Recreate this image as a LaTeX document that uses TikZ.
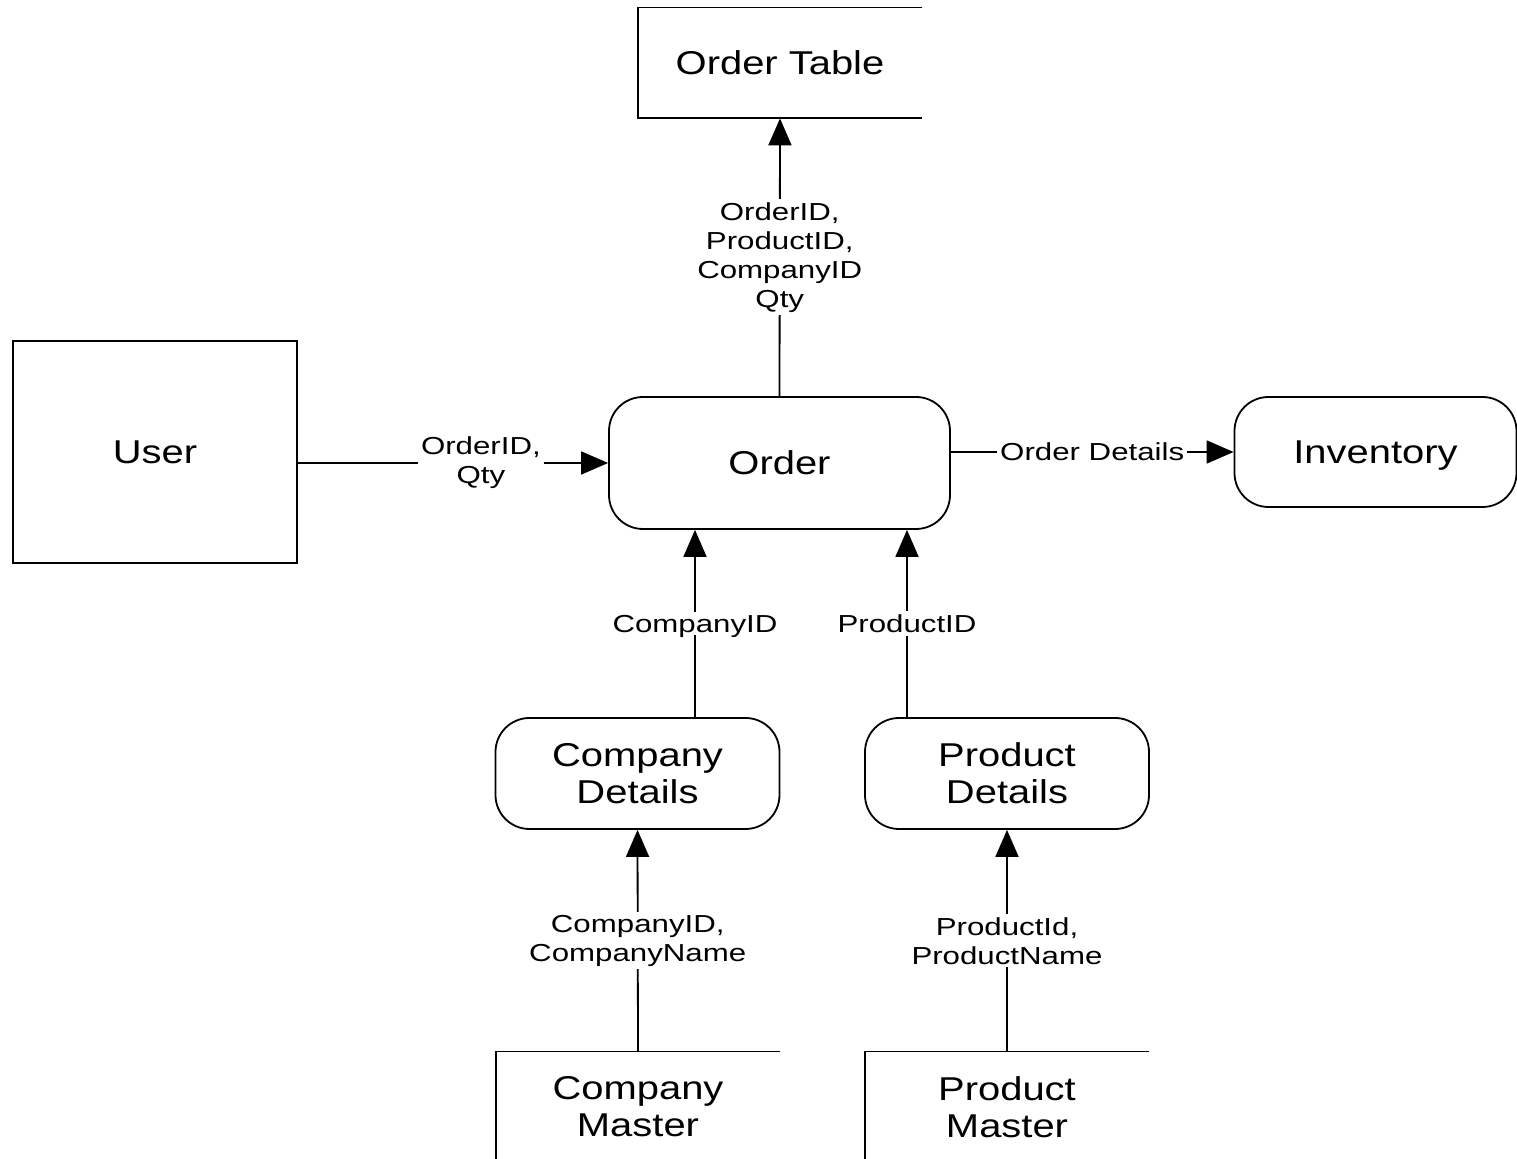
\documentclass[tikz,border=0pt]{standalone}
\usepackage{fontspec}
\setmainfont{Liberation Sans}
\newfontfamily\bigfont{Liberation Sans}[FakeStretch=1.21]
\newfontfamily\labfont{Liberation Sans}[FakeStretch=1.27]
\usetikzlibrary{arrows.meta}
\tikzset{
  box/.style={draw, line width=0.9pt, minimum width=142pt, minimum height=55pt, align=center,
    font=\bigfont\fontsize{16.5pt}{18.5pt}\selectfont, inner sep=0pt},
  rbox/.style={box, rounded corners=17pt},
  txt/.style={minimum width=142pt, minimum height=55pt, align=center,
    font=\bigfont\fontsize{16.5pt}{18.5pt}\selectfont, inner sep=0pt},
  lab/.style={fill=white, align=center, inner sep=1.5pt,
    font=\labfont\fontsize{12.3pt}{14.5pt}\selectfont},
  arr/.style={line width=0.9pt, -{Triangle[length=13.5pt,width=11.5pt]}},
  ln/.style={line width=0.9pt}
}
\begin{document}
\begin{tikzpicture}[x=0.5pt,y=-0.5pt]
\useasboundingbox (0,0) rectangle (1517,1159);
% nodes
\node[txt] (ot) at (780,63) {Order Table};
\draw[ln] (ot.north east) -- (ot.north west) -- (ot.south west) -- (ot.south east);
\node[box, minimum height=111pt] (user) at (155,452) {User};
\node[rbox, minimum width=170.5pt, minimum height=66pt] (order) at (779.5,463) {Order};
\node[rbox, minimum width=141pt, text depth=0pt] (inv) at (1375.5,452) {Inventory};
\node[rbox, minimum height=55.5pt] (cd) at (637.5,773.5) {Company\\Details};
\node[rbox, minimum height=55.5pt] (pd) at (1007,773.5) {Product\\Details};
\node[txt] (cm) at (638,1107) {Company\\Master};
\draw[ln] (cm.north east) -- (cm.north west) -- (cm.south west);
\node[txt] (pm) at (1007,1107) {Product\\Master};
\draw[ln] (pm.north east) -- (pm.north west) -- (pm.south west);
\coordinate (xc) at (695,0);
\coordinate (xp) at (907,0);
% connectors
\draw[arr] (order.north) -- node[lab] {OrderID,\\ProductID,\\CompanyID\\Qty} (ot.south);
\draw[arr] (user.east |- order.west) -- node[lab, pos=0.59] {OrderID,\\Qty} (order.west);
\draw[arr] (order.east |- inv.west) -- node[lab] {Order Details} (inv.west);
\draw[arr] (cd.north -| xc) -- node[lab, text depth=0pt] {CompanyID} (order.south -| xc);
\draw[arr] (pd.north -| xp) -- node[lab] {ProductID} (order.south -| xp);
\draw[arr] (cm.north) -- node[lab] {CompanyID,\\CompanyName} (cd.south);
\draw[arr] (pm.north) -- node[lab] {ProductId,\\ProductName} (pd.south);
\end{tikzpicture}
\end{document}
